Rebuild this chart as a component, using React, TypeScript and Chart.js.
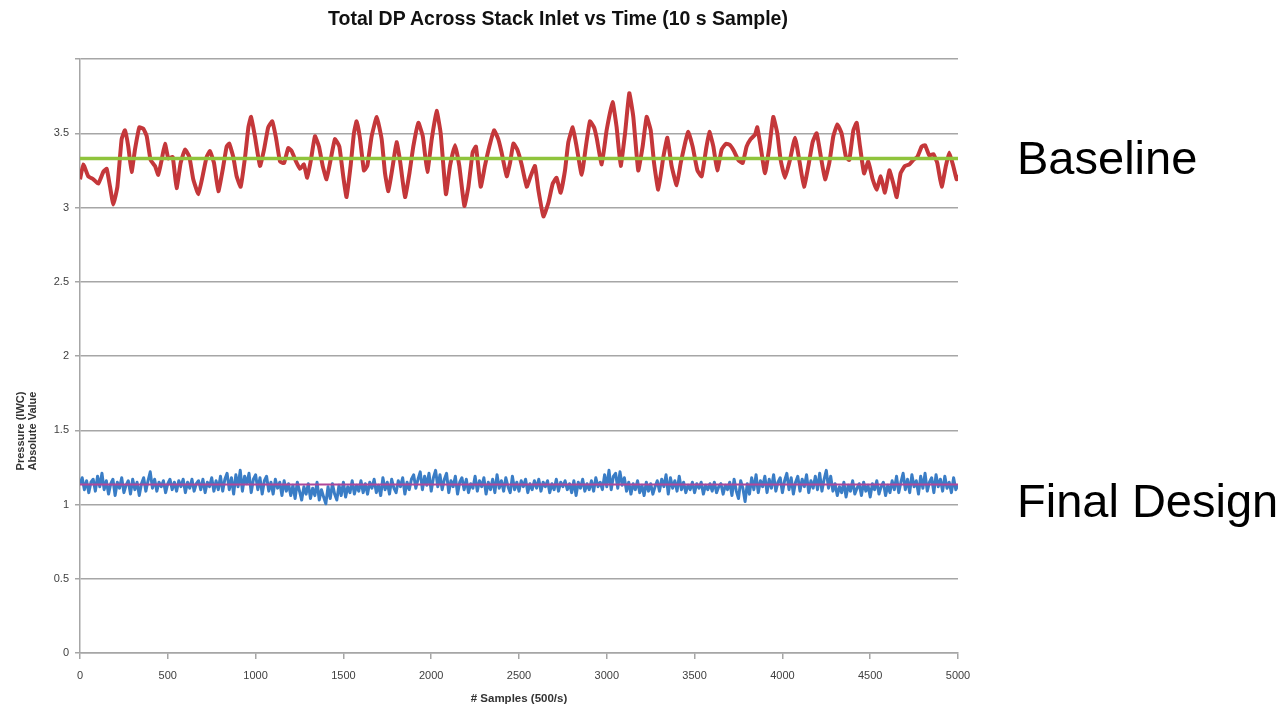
import React, { useEffect, useRef } from 'react';
import { Chart, registerables } from 'chart.js';

Chart.register(...registerables);

const chartTitle = 'Total DP Across Stack Inlet vs Time (10 s Sample)';
const xAxisTitle = '# Samples (500/s)';
const yAxisTitleLines = ['Pressure (IWC)', 'Absolute Value'];
const seriesLabels = ['Baseline', 'Final Design'];

const xMin = 0;
const xMax = 5000;
const xStep = 500;
const yMin = 0;
const yMax = 4;
const yStep = 0.5;

const baselineSamples = [
  0, 19, 47, 76, 104, 133, 152, 171, 190, 213, 237, 256, 275, 294, 313, 338, 361, 380, 402, 427,
  446, 465, 484, 503, 528, 550, 573, 598, 623, 645, 674, 698, 721, 740, 763, 788, 812, 835, 850, 873,
  892, 915, 940, 959, 974, 996, 1025, 1048, 1072, 1095, 1116, 1139, 1162, 1186, 1205, 1230, 1253, 1275, 1294, 1315,
  1338, 1361, 1382, 1404, 1427, 1452, 1477, 1499, 1518, 1541, 1560, 1575, 1594, 1617, 1636, 1661,
  1690, 1718, 1737, 1756, 1781, 1803, 1822, 1851, 1876, 1898, 1927, 1952, 1978, 2003, 2031, 2054, 2084, 2107, 2136, 2160,
  2189, 2212, 2236, 2255, 2282, 2306, 2331, 2358, 2382, 2401, 2430, 2449, 2468, 2490, 2515, 2544, 2566, 2591, 2610, 2639,
  2667, 2692, 2714, 2737, 2762, 2781, 2806, 2828, 2857, 2882, 2904, 2927, 2942, 2971, 2999, 3033, 3056, 3079, 3104, 3128,
  3151, 3179, 3204, 3227, 3250, 3269, 3293,
  3322, 3345, 3369, 3398, 3421, 3445, 3464, 3489, 3516, 3540, 3565, 3584, 3607, 3629, 3654, 3679, 3702, 3724, 3749, 3774,
  3796, 3819, 3844, 3857, 3876, 3901, 3926, 3948, 3971, 3990, 4015, 4043, 4072, 4096, 4123, 4148, 4172, 4195, 4218, 4243,
  4267, 4290, 4313, 4337, 4362, 4381, 4404, 4423, 4442, 4465, 4489, 4514, 4537, 4560, 4584, 4609, 4632, 4651, 4673, 4698,
  4723, 4745, 4768, 4793, 4812, 4837, 4859, 4882, 4907, 4931, 4950, 4973, 4992, 5000,
];

const baselineValues = [
  3.19, 3.29, 3.21, 3.19, 3.16, 3.24, 3.26, 3.14, 3.02, 3.14, 3.46, 3.52, 3.41, 3.24, 3.39, 3.54, 3.53, 3.48, 3.32, 3.28,
  3.22, 3.32, 3.43, 3.33, 3.34, 3.13, 3.30, 3.39, 3.34, 3.19, 3.09, 3.21, 3.34, 3.38, 3.30, 3.11, 3.25, 3.41, 3.43, 3.34,
  3.21, 3.14, 3.34, 3.54, 3.61, 3.48, 3.28, 3.39, 3.54, 3.58, 3.47, 3.31, 3.30, 3.40, 3.38, 3.31, 3.26, 3.29, 3.20, 3.32,
  3.48, 3.41, 3.28, 3.19, 3.32, 3.46, 3.41, 3.21, 3.07, 3.28, 3.50, 3.58, 3.47, 3.25, 3.28, 3.48,
  3.61, 3.46, 3.23, 3.11, 3.28, 3.44, 3.32, 3.07, 3.23, 3.41, 3.57, 3.48, 3.24, 3.46, 3.65, 3.50, 3.09, 3.28, 3.42, 3.28,
  3.01, 3.14, 3.37, 3.41, 3.14, 3.28, 3.41, 3.52, 3.46, 3.37, 3.21, 3.30, 3.43, 3.39, 3.29, 3.14, 3.21, 3.28, 3.12, 2.94,
  3.03, 3.16, 3.20, 3.10, 3.25, 3.44, 3.54, 3.41, 3.22, 3.42, 3.58, 3.54, 3.47, 3.29, 3.52, 3.71, 3.54, 3.28, 3.50, 3.77,
  3.61, 3.25, 3.41, 3.61, 3.52, 3.30, 3.12,
  3.34, 3.47, 3.28, 3.15, 3.30, 3.43, 3.51, 3.41, 3.25, 3.21, 3.39, 3.51, 3.41, 3.25, 3.39, 3.43, 3.42, 3.38, 3.32, 3.30,
  3.41, 3.46, 3.49, 3.54, 3.41, 3.23, 3.41, 3.61, 3.50, 3.32, 3.20, 3.32, 3.47, 3.32, 3.14, 3.28, 3.44, 3.50, 3.35, 3.19,
  3.30, 3.48, 3.56, 3.50, 3.34, 3.32, 3.52, 3.57, 3.41, 3.23, 3.31, 3.19, 3.12, 3.21, 3.10, 3.25, 3.16, 3.07, 3.23, 3.28,
  3.29, 3.32, 3.34, 3.41, 3.42, 3.35, 3.36, 3.30, 3.14, 3.28, 3.37, 3.28, 3.19, 3.22,
];

// Final design readings, one every 12.5 samples (8 readings per 100 samples)
const finalStep = 12.5;
const finalValues = [
  1.14, 1.18, 1.10, 1.16, 1.08, 1.15, 1.17, 1.09,
  1.19, 1.12, 1.21, 1.10, 1.16, 1.07, 1.14, 1.17,
  1.06, 1.15, 1.11, 1.18, 1.08, 1.13, 1.16, 1.07,
  1.17, 1.10, 1.15, 1.06, 1.14, 1.18, 1.09, 1.16,
  1.22, 1.11, 1.17, 1.09, 1.15, 1.12, 1.16, 1.08,
  1.14, 1.17, 1.10, 1.15, 1.09, 1.16, 1.12, 1.17,
  1.08, 1.15, 1.11, 1.17, 1.09, 1.14, 1.16, 1.10,
  1.17, 1.08, 1.15, 1.12, 1.18, 1.09, 1.16, 1.10,
  1.19, 1.09, 1.17, 1.21, 1.10, 1.18, 1.07, 1.20,
  1.12, 1.23, 1.09, 1.19, 1.14, 1.21, 1.08, 1.17,
  1.20, 1.10, 1.18, 1.07, 1.16, 1.19, 1.09, 1.15,
  1.07, 1.17, 1.11, 1.15, 1.06, 1.16, 1.09, 1.14,
  1.06, 1.13, 1.04, 1.15, 1.09, 1.03, 1.12, 1.07,
  1.14, 1.04, 1.11, 1.06, 1.15, 1.03, 1.10, 1.05,
  1.005, 1.12, 1.04, 1.14, 1.07, 1.03, 1.13, 1.06,
  1.15, 1.05, 1.12, 1.08, 1.16, 1.07, 1.13, 1.09,
  1.16, 1.08, 1.14, 1.07, 1.15, 1.11, 1.17, 1.08,
  1.13, 1.06, 1.18, 1.10, 1.15, 1.07, 1.17, 1.11,
  1.08, 1.16, 1.12, 1.18, 1.07, 1.15, 1.10, 1.17,
  1.20, 1.11, 1.17, 1.22, 1.10, 1.19, 1.13, 1.21,
  1.09, 1.18, 1.23, 1.12, 1.20, 1.10, 1.17, 1.21,
  1.08, 1.16, 1.12, 1.19, 1.07, 1.15, 1.18, 1.10,
  1.17, 1.08, 1.14, 1.11, 1.19, 1.09, 1.16, 1.12,
  1.18, 1.07, 1.15, 1.10, 1.17, 1.08, 1.20, 1.11,
  1.16, 1.09, 1.18, 1.12, 1.08, 1.19, 1.10, 1.15,
  1.09, 1.16, 1.12, 1.17, 1.08, 1.14, 1.10, 1.16,
  1.11, 1.17, 1.09, 1.15, 1.12, 1.16, 1.08, 1.14,
  1.10, 1.17, 1.09, 1.15, 1.12, 1.16, 1.10, 1.14,
  1.08, 1.16, 1.06, 1.15, 1.11, 1.17, 1.09, 1.14,
  1.10, 1.16, 1.09, 1.18, 1.12, 1.15, 1.10, 1.20,
  1.12, 1.23, 1.10, 1.19, 1.21, 1.11, 1.22, 1.13,
  1.18, 1.09, 1.15, 1.07, 1.14, 1.10, 1.16, 1.08,
  1.13, 1.06, 1.15, 1.09, 1.14, 1.07, 1.12, 1.16,
  1.09, 1.17, 1.12, 1.20, 1.07, 1.18, 1.11, 1.16,
  1.09, 1.19, 1.10, 1.15, 1.08, 1.13, 1.10, 1.15,
  1.08, 1.14, 1.11, 1.15, 1.07, 1.13, 1.10, 1.14,
  1.09, 1.15, 1.08, 1.12, 1.14, 1.07, 1.13, 1.10,
  1.15, 1.06, 1.17, 1.09, 1.04, 1.16, 1.11, 1.02,
  1.14, 1.07, 1.18, 1.10, 1.20, 1.08, 1.16, 1.12,
  1.19, 1.08, 1.17, 1.11, 1.20, 1.09, 1.15, 1.18,
  1.08, 1.16, 1.21, 1.10, 1.18, 1.07, 1.15, 1.19,
  1.09, 1.17, 1.12, 1.20, 1.08, 1.16, 1.11, 1.19,
  1.10, 1.21, 1.09, 1.17, 1.23, 1.11, 1.19, 1.09,
  1.14, 1.06, 1.12, 1.08, 1.15, 1.05, 1.13, 1.09,
  1.16, 1.07, 1.11, 1.14, 1.06, 1.15, 1.09, 1.13,
  1.05, 1.14, 1.10, 1.16, 1.07, 1.12, 1.15, 1.06,
  1.13, 1.08, 1.16, 1.10, 1.19, 1.08, 1.15, 1.21,
  1.10, 1.17, 1.08, 1.20, 1.12, 1.16, 1.07, 1.19,
  1.11, 1.21, 1.09, 1.15, 1.18, 1.08, 1.20, 1.12,
  1.17, 1.09, 1.19, 1.11, 1.15, 1.08, 1.18, 1.10,
  1.13,
];

const baselineMean = 3.33;
const finalMean = 1.135;

const W = 1287;
const H = 707;
const plotLeft = 80;
const plotRight = 958;
const plotTop = 59;
const plotBottom = 653;

export default function App() {
  const canvasRef = useRef<HTMLCanvasElement | null>(null);

  useEffect(() => {
    const canvas = canvasRef.current;
    if (!canvas) return;
    const baseline = baselineSamples.map((s, i) => ({ x: s, y: baselineValues[i] }));
    const final = finalValues.map((v, i) => ({ x: i * finalStep, y: v }));
    const chart = new Chart(canvas, {
      type: 'line',
      data: {
        datasets: [
          {
            label: 'Baseline',
            data: baseline,
            borderColor: '#c4373a',
            borderWidth: 4,
            pointRadius: 0,
            tension: 0.12,
            borderJoinStyle: 'round',
            order: 4,
          },
          {
            label: 'Baseline mean',
            data: [
              { x: xMin, y: baselineMean },
              { x: xMax, y: baselineMean },
            ],
            borderColor: '#8fc43c',
            borderWidth: 3.5,
            pointRadius: 0,
            order: 3,
          },
          {
            label: 'Final Design',
            data: final,
            borderColor: '#3a7dc6',
            borderWidth: 3,
            pointRadius: 0,
            tension: 0,
            borderJoinStyle: 'round',
            order: 2,
          },
          {
            label: 'Final Design mean',
            data: [
              { x: xMin, y: finalMean },
              { x: xMax, y: finalMean },
            ],
            borderColor: '#b0479a',
            borderWidth: 2,
            pointRadius: 0,
            order: 1,
          },
        ],
      },
      options: {
        responsive: false,
        animation: false,
        events: [],
        layout: {
          padding: { left: 0, right: W - plotRight, top: plotTop, bottom: 0 },
        },
        plugins: {
          legend: { display: false },
          title: { display: false },
          tooltip: { enabled: false },
        },
        scales: {
          x: {
            type: 'linear',
            min: xMin,
            max: xMax,
            ticks: {
              stepSize: xStep,
              color: '#404040',
              font: { family: 'Liberation Sans', size: 11 },
              padding: 10,
              maxRotation: 0,
              callback: (v: any) => String(v),
            },
            grid: {
              drawOnChartArea: false,
              drawTicks: true,
              tickLength: 6,
              color: '#a6a6a6',
              lineWidth: 1.5,
            },
            border: { color: '#a6a6a6', width: 1.5 },
            afterFit: (scale: any) => {
              scale.height = H - plotBottom;
            },
          },
          y: {
            type: 'linear',
            min: yMin,
            max: yMax,
            ticks: {
              stepSize: yStep,
              color: '#404040',
              font: { family: 'Liberation Sans', size: 11 },
              padding: 6,
              callback: (v: any) => (v === yMax ? '' : String(v)),
            },
            grid: {
              color: '#a6a6a6',
              lineWidth: 1.5,
              tickLength: 5,
            },
            border: { color: '#a6a6a6', width: 1.5 },
            afterFit: (scale: any) => {
              scale.width = plotLeft;
            },
          },
        },
      },
    });
    return () => chart.destroy();
  }, []);

  return (
    <div
      style={{
        position: 'fixed',
        left: 0,
        top: 0,
        width: W,
        height: H,
        background: '#ffffff',
        overflow: 'hidden',
        fontFamily: 'Liberation Sans, Arial, sans-serif',
      }}
    >
      <canvas ref={canvasRef} width={W} height={H} style={{ position: 'absolute', left: 0, top: 0 }} />
      <div
        style={{
          position: 'absolute',
          left: 558 - 300,
          width: 600,
          top: 6,
          textAlign: 'center',
          fontWeight: 'bold',
          fontSize: 19.5,
          lineHeight: '24px',
          color: '#111',
          whiteSpace: 'nowrap',
        }}
      >
        {chartTitle}
      </div>
      <div
        style={{
          position: 'absolute',
          left: (plotLeft + plotRight) / 2 - 150,
          width: 300,
          top: 692,
          textAlign: 'center',
          fontWeight: 'bold',
          fontSize: 11.5,
          color: '#333',
          whiteSpace: 'nowrap',
        }}
      >
        {xAxisTitle}
      </div>
      <div
        style={{
          position: 'absolute',
          left: 27 - 60,
          top: 431 - 13,
          width: 120,
          height: 26,
          transform: 'rotate(-90deg)',
          textAlign: 'center',
          fontWeight: 'bold',
          fontSize: 11,
          lineHeight: '12px',
          color: '#333',
          whiteSpace: 'nowrap',
        }}
      >
        <div>{yAxisTitleLines[0]}</div>
        <div>{yAxisTitleLines[1]}</div>
      </div>
      <div
        style={{
          position: 'absolute',
          left: 1017,
          top: 131,
          fontSize: 47,
          lineHeight: '54px',
          color: '#000',
          whiteSpace: 'nowrap',
        }}
      >
        {seriesLabels[0]}
      </div>
      <div
        style={{
          position: 'absolute',
          left: 1017,
          top: 474,
          fontSize: 47,
          lineHeight: '54px',
          color: '#000',
          whiteSpace: 'nowrap',
        }}
      >
        {seriesLabels[1]}
      </div>
    </div>
  );
}
